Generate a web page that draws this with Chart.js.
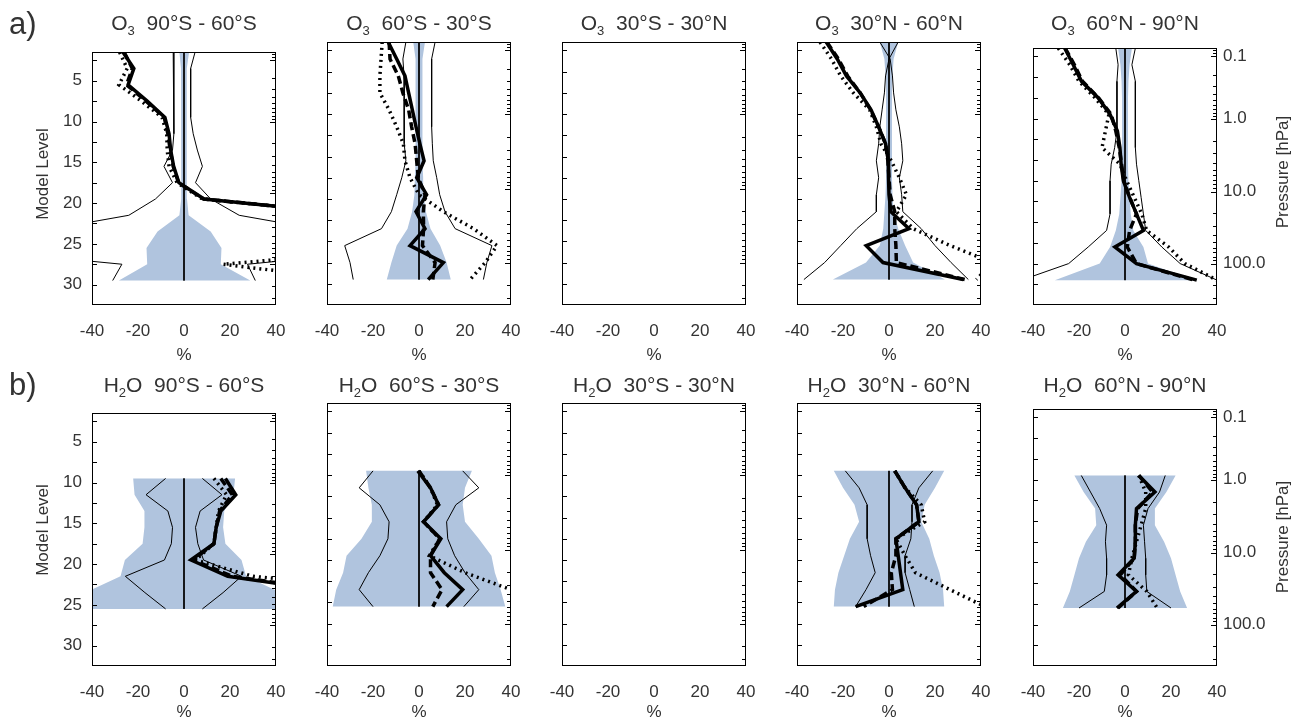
<!DOCTYPE html>
<html>
<head>
<meta charset="utf-8">
<script src="https://cdn.jsdelivr.net/npm/chart.js@4.4.1/dist/chart.umd.min.js"></script>
<style>
body { margin: 0; background: #fff; }
#fig { position: relative; width: 1298px; height: 725px; overflow: hidden;
       font-family: "Liberation Sans", Arial, Helvetica, sans-serif; color: #333; }
#fig canvas { position: absolute; }
.lbl { position: absolute; white-space: nowrap; transform: translate(-50%, -50%); }
.title { font-size: 21px; }
.pct { font-size: 17px; }
.rot { font-size: 17px; transform: translate(-50%, -50%) rotate(-90deg); }
.tag { font-size: 31px; transform: translate(0, -50%); }
sub { font-size: 62%; vertical-align: -0.35em; line-height: 0; }
</style>
</head>
<body>
<div id="fig"></div>
<script>
// latitude bands, one per column
const regions = ['90°S - 60°S', '60°S - 30°S', '30°S - 30°N', '30°N - 60°N', '60°N - 90°N'];
const xTicks = [-40, -20, 0, 20, 40];
const levelTicks = [5, 10, 15, 20, 25, 30];
const pressureLabels = ['0.1', '1.0', '10.0', '100.0'];
const pressureLevels = [2.45, 10, 18.8, 27.5];

// O3 (row a), model levels 1.5 .. 29.5
const o3Levels = [1.5, 3.5, 5.5, 7.5, 9.5, 11.5, 13.5, 15.5, 17.5, 19.5, 21.5, 23.5, 25.5, 27.5, 29.5];
const o3Solid = [
  [-26.5, -21.8, -24.3, -16, -8.3, -6.5, -5.8, -4.5, -2.2, 8.7, 80, 100, 100, 100, 100],
  [-13.4, -9.7, -6.1, -4.5, -2.9, -1.3, 0.4, 2.2, -1, 3.3, -1.3, 2.6, -3.9, 10.6, 4],
  null,
  [-27.3, -22.5, -18.5, -12.5, -7.8, -4.5, -1.5, -0.3, -0.2, 0, 0.8, 8.7, -9.9, -2.6, 32.3],
  [-26.2, -22.5, -18.9, -11.6, -6.5, -3.3, -2.2, -1.7, -0.7, 2, 5, 8, -4.4, 5, 31.2]
];
const o3Dashed = [
  [-26, -22.5, -25, -16.5, -8.6, -7, -6, -4.7, -2.4, 8.5, 80, 100, 100, 100, 100],
  [-13, -12.6, -9, -7, -4.5, -3.2, -1.7, -1, -0.3, 2.6, 1.9, 2, 1.5, 7, 6],
  null,
  [-27, -22, -18, -12.5, -8, -4.5, -1.5, -0.5, 0, 0.5, 2.5, 2.5, 3, 3.2, 33],
  [-26, -22, -18.5, -11.5, -6, -4, -2.5, -1.5, -0.5, 2, 5, 2, 1, 5, 30]
];
const o3Dotted = [
  [-28, -24.7, -28.3, -18.5, -9.5, -7.5, -7.3, -6.5, -3, 8, 80, 100, 100, 17, 75],
  [-16, -16.5, -17, -17, -13, -9.7, -6.8, -6.1, -3.9, 0, 10.6, 23.7, 33.9, 28.8, 22.2],
  null,
  [-30, -25, -21, -15.5, -8.4, -5.5, -3.5, 1, 4.5, 7.6, 3.2, 10.5, 26.6, 45, 38],
  [-29, -24, -20, -13, -7, -8.5, -10, -2.2, 0.7, 4, 7.3, 9.4, 19, 26, 40]
];
const o3ThinL = [
  [-4.7, -4.4, -4.4, -4.4, -4.4, -4.4, -5, -8.7, -5, -12.4, -24, -64, -100, -27, -31],
  [-5.7, -7, -6.5, -6.5, -6.5, -6.5, -6.2, -5.7, -7.5, -9.7, -12, -16.3, -32.3, -30, -28.6],
  null,
  [4, 0, -1.5, -2, -3, -4, -4.5, -5.5, -4.5, -5.5, -5.5, -14, -21, -28, -37],
  [-4, -3, -3.5, -3.5, -3.5, -3.5, -4.5, -6, -6.5, -6.5, -6.5, -8, -16, -24.5, -45]
];
const o3ThinR = [
  [4.8, 2.9, 2.9, 2.9, 2.9, 4, 5.8, 8, 5, 11.6, 24, 64, 100, 27.6, 31],
  [7, 5.5, 5.5, 5.5, 5.5, 5.5, 5.8, 6.2, 7.7, 9, 11.3, 15.7, 31.7, 29.5, 28],
  null,
  [-4, 0.5, 1.5, 2, 3, 4.5, 5.5, 6, 4.5, 5.5, 6, 14, 20, 27, 34.5],
  [4.5, 3, 4.5, 4.5, 4.5, 4.5, 4.5, 5, 6, 7, 8, 9, 16, 24, 40]
];
const o3BandLo = [
  [-2, -1.3, -1.2, -1.2, -1.2, -1.2, -1.2, -1.2, -1.2, -1.3, -2, -11.5, -16.3, -16, -28.3],
  [-2.5, -1.5, -1.5, -1.5, -1.5, -1.5, -1.5, -1.5, -1.8, -2, -3, -5, -9.7, -12, -14],
  null,
  [-4, -2, -1.5, -1.3, -1.3, -1.3, -1.3, -1.3, -1.3, -1.5, -2, -2.5, -4, -10, -24.4],
  [-3, -2, -1.5, -1.3, -1.3, -1.3, -1.3, -1.3, -1.5, -2, -2.5, -4, -6.5, -11, -30.5]
];
const o3BandHi = [
  [2.2, 1.3, 1.2, 1.2, 1.2, 1.2, 1.2, 1.2, 1.2, 1.3, 2, 11.6, 16.3, 16, 28.8],
  [2.6, 1.5, 1.5, 1.5, 1.5, 1.5, 1.5, 1.5, 1.8, 2, 3, 5, 9.2, 12, 13.8],
  null,
  [4, 2, 1.5, 1.3, 1.3, 1.3, 1.3, 1.3, 1.3, 1.5, 2, 4, 7, 10.5, 24.3],
  [3, 2, 1.5, 1.3, 1.3, 1.3, 1.3, 1.3, 1.5, 2, 2.5, 3.6, 8, 10, 30.5]
];

// H2O (row b), model levels 9.5 .. 25.5
const h2oLevels = [9.5, 11.5, 13.5, 15.5, 17.5, 19.5, 21.5, 23.5, 25.5];
const h2oSolid = [
  [18, 22.5, 16, 14, 13, 3, 19, 68, 100],
  [-0.5, 5, 8.5, 2, 9.5, 5, 11, 19, 12],
  null,
  [2.5, 7, 12, 13, 3, 4, 5, 6, -14.5],
  [6, 13, 5, 4.5, 4.5, 4, -3, 5, -3.5]
];
const h2oDashed = [
  [16, 21, 15.5, 14, 13, 4, 21, 70, 100],
  [0, 5, 8.5, 2, 9, 5, 5, 10, 6],
  null,
  [2.5, 7, 12, 13, 3, 3, 1, 1.5, -11],
  [6, 12, 5.5, 4.5, 4.5, 4, -2, 5, -3]
];
const h2oDotted = [
  [13, 18.5, 15, 14, 13, 5, 30, 100, 100],
  [0, 5, 8, 2, 9, 4.5, 20, 40, 60],
  null,
  [2.5, 7, 14, 15.5, 3, 7, 11.5, 26.5, 41.7],
  [6, 9, 9, 7, 5, 3, 1.5, 9.5, 14]
];
const h2oThinL = [
  [-8, -16.5, -7, -5, -5.5, -8.5, -25.5, -17, -8],
  [-20, -26, -17, -13, -13.5, -17, -22, -26, -20],
  null,
  [-19, -13, -9.5, -9.5, -9.5, -8, -6, -10, -14.5],
  [-19, -15, -11, -8, -8.5, -8, -8, -9, -20]
];
const h2oThinR = [
  [8, 16.5, 7, 5, 6, 8.5, 25, 17, 8],
  [19, 26, 16, 12, 12.5, 15.5, 20, 26, 19.5],
  null,
  [19, 13, 10, 10, 9.5, 7, 7, 9, 11],
  [17.5, 15, 10, 8, 8.5, 9, 9, 9.5, 20]
];
const h2oBandLo = [
  [-22.1, -21.5, -17.2, -17.2, -18, -25.7, -27.6, -43, -50],
  [-23, -22, -20.5, -20.5, -25, -31.5, -33, -36, -37.5],
  null,
  [-24, -20, -15, -13, -17, -19.5, -22, -23.5, -24],
  [-22, -18, -13, -12.5, -17, -20, -22, -24, -27]
];
const h2oBandHi = [
  [22.2, 21.5, 17.5, 17, 18, 25, 27, 42, 50],
  [23, 20, 19, 20, 26, 31.5, 33, 35.5, 37.5],
  null,
  [24, 20, 15.5, 14, 17.5, 19.5, 22, 23.5, 24],
  [22, 18, 13, 13, 17, 20, 22, 24, 27]
];

const FONT = '"Liberation Sans", Arial, Helvetica, sans-serif';
const TXT = '#333';
const BAND = '#b0c4de';
const ML = 40, MR = 60, MT = 10, MB = 45;
const PW = 184, PH = 263;
const plotTop = [42, 403];
const fig = document.getElementById('fig');

// tick marks inside the frame: every 2.5 levels on the left, log pressure on the right
const leftTicks = [];
for (let v = 2.5; v < 32.5; v += 2.5) leftTicks.push(v);
const rightTicks = [];
const decadeLevels = [pressureLevels[0] - 7.5].concat(pressureLevels, [pressureLevels[3] + 8.7]);
for (let d = 0; d < decadeLevels.length - 1; d++) {
  for (let m = 1; m < 10; m++) {
    const v = decadeLevels[d] + (decadeLevels[d + 1] - decadeLevels[d]) * Math.log10(m);
    if (v > 1.5 && v < 32.5) rightTicks.push({v, major: m === 1});
  }
}

const framePlugin = {
  id: 'frame',
  afterDatasetsDraw(chart) {
    const {ctx, chartArea: a} = chart;
    const y = chart.scales.y;
    ctx.save();
    ctx.strokeStyle = '#000';
    ctx.lineWidth = 1;
    ctx.beginPath();
    leftTicks.forEach(v => {
      const p = Math.round(y.getPixelForValue(v)) + 0.5;
      ctx.moveTo(a.left, p); ctx.lineTo(a.left + 5, p);
    });
    rightTicks.forEach(t => {
      const p = Math.round(y.getPixelForValue(t.v)) + 0.5;
      ctx.moveTo(a.right, p); ctx.lineTo(a.right - (t.major ? 6 : 4), p);
    });
    ctx.stroke();
    ctx.strokeRect(Math.round(a.left) + 0.5, Math.round(a.top) + 0.5,
                   Math.round(a.right - a.left) - 1, Math.round(a.bottom - a.top) - 1);
    ctx.restore();
  }
};

function pts(xs, levels) {
  return xs.map((x, i) => ({x, y: levels[i]}));
}

function line(data, width, dash) {
  return {data, borderColor: '#000', borderWidth: width, borderDash: dash || [],
          pointRadius: 0, fill: false, tension: 0, borderCapStyle: 'butt'};
}

function addLabel(cls, html, x, y) {
  const el = document.createElement('div');
  el.className = 'lbl ' + cls;
  el.innerHTML = html;
  el.style.left = x + 'px';
  el.style.top = y + 'px';
  fig.appendChild(el);
}

function makePanel(row, col) {
  const left = Math.round(92 + 235.15 * col);
  const top = plotTop[row];
  const cv = document.createElement('canvas');
  cv.width = ML + PW + MR;
  cv.height = MT + PH + MB;
  cv.style.left = (left - ML) + 'px';
  cv.style.top = (top - MT) + 'px';
  fig.appendChild(cv);

  const levels = row === 0 ? o3Levels : h2oLevels;
  const src = row === 0
    ? {solid: o3Solid, dashed: o3Dashed, dotted: o3Dotted, thinL: o3ThinL, thinR: o3ThinR, lo: o3BandLo, hi: o3BandHi}
    : {solid: h2oSolid, dashed: h2oDashed, dotted: h2oDotted, thinL: h2oThinL, thinR: h2oThinR, lo: h2oBandLo, hi: h2oBandHi};

  const datasets = [];
  if (src.solid[col]) {
    const band = pts(src.lo[col], levels).concat(pts(src.hi[col], levels).reverse());
    datasets.push(
      line(pts(src.solid[col], levels), 3.5),
      line(pts(src.dashed[col], levels), 3.5, [8, 4]),
      line(pts(src.dotted[col], levels), 3.5, [2, 4]),
      line(pts(src.thinL[col], levels), 1),
      line(pts(src.thinR[col], levels), 1),
      line([{x: 0, y: levels[0]}, {x: 0, y: levels[levels.length - 1]}], 1),
      {data: band, borderWidth: 0, borderColor: BAND, backgroundColor: BAND,
       pointRadius: 0, fill: 'shape', tension: 0}
    );
  }

  const tickFont = {family: FONT, size: 17};
  const scales = {
    x: {
      type: 'linear', position: 'bottom', min: -40, max: 40,
      afterBuildTicks: ax => { ax.ticks = xTicks.map(v => ({value: v})); },
      afterFit: ax => { ax.height = MB; },
      grid: {display: false, drawTicks: false}, border: {display: false},
      ticks: {color: TXT, font: tickFont, padding: 16, maxRotation: 0, autoSkip: false}
    },
    y: {
      type: 'linear', position: 'left', reverse: true, min: 1.5, max: 32.5,
      afterBuildTicks: ax => { ax.ticks = levelTicks.map(v => ({value: v})); },
      afterFit: ax => { ax.width = ML; },
      grid: {display: false, drawTicks: false}, border: {display: false},
      ticks: {display: col === 0, color: TXT, font: tickFont, padding: 10}
    }
  };
  if (col === 4) {
    scales.y2 = {
      type: 'linear', position: 'right', reverse: true, min: 1.5, max: 32.5,
      afterBuildTicks: ax => { ax.ticks = pressureLevels.map(v => ({value: v})); },
      afterFit: ax => { ax.width = MR; },
      grid: {display: false, drawTicks: false}, border: {display: false},
      ticks: {color: TXT, font: tickFont, padding: 6, callback: (v, i) => pressureLabels[i]}
    };
  }

  new Chart(cv, {
    type: 'line',
    data: {datasets},
    options: {
      responsive: false, animation: false, events: [],
      layout: {padding: {top: MT, right: col === 4 ? 0 : MR, left: 0, bottom: 0}},
      plugins: {legend: {display: false}, tooltip: {enabled: false}},
      scales
    },
    plugins: [framePlugin]
  });

  const cx = left + PW / 2;
  const species = row === 0 ? 'O<sub>3</sub>' : 'H<sub>2</sub>O';
  addLabel('title', species + '&nbsp;&nbsp;' + regions[col], cx, row === 0 ? 23 : 385);
  addLabel('pct', '%', cx, row === 0 ? 355 : 712);
}

for (let r = 0; r < 2; r++) {
  for (let c = 0; c < 5; c++) makePanel(r, c);
}

addLabel('rot', 'Model Level', 43, 174);
addLabel('rot', 'Model Level', 43, 530);
addLabel('rot', 'Pressure [hPa]', 1283, 172);
addLabel('rot', 'Pressure [hPa]', 1283, 537);
addLabel('tag', 'a)', 9, 24);
addLabel('tag', 'b)', 9, 385);
</script>
</body>
</html>
